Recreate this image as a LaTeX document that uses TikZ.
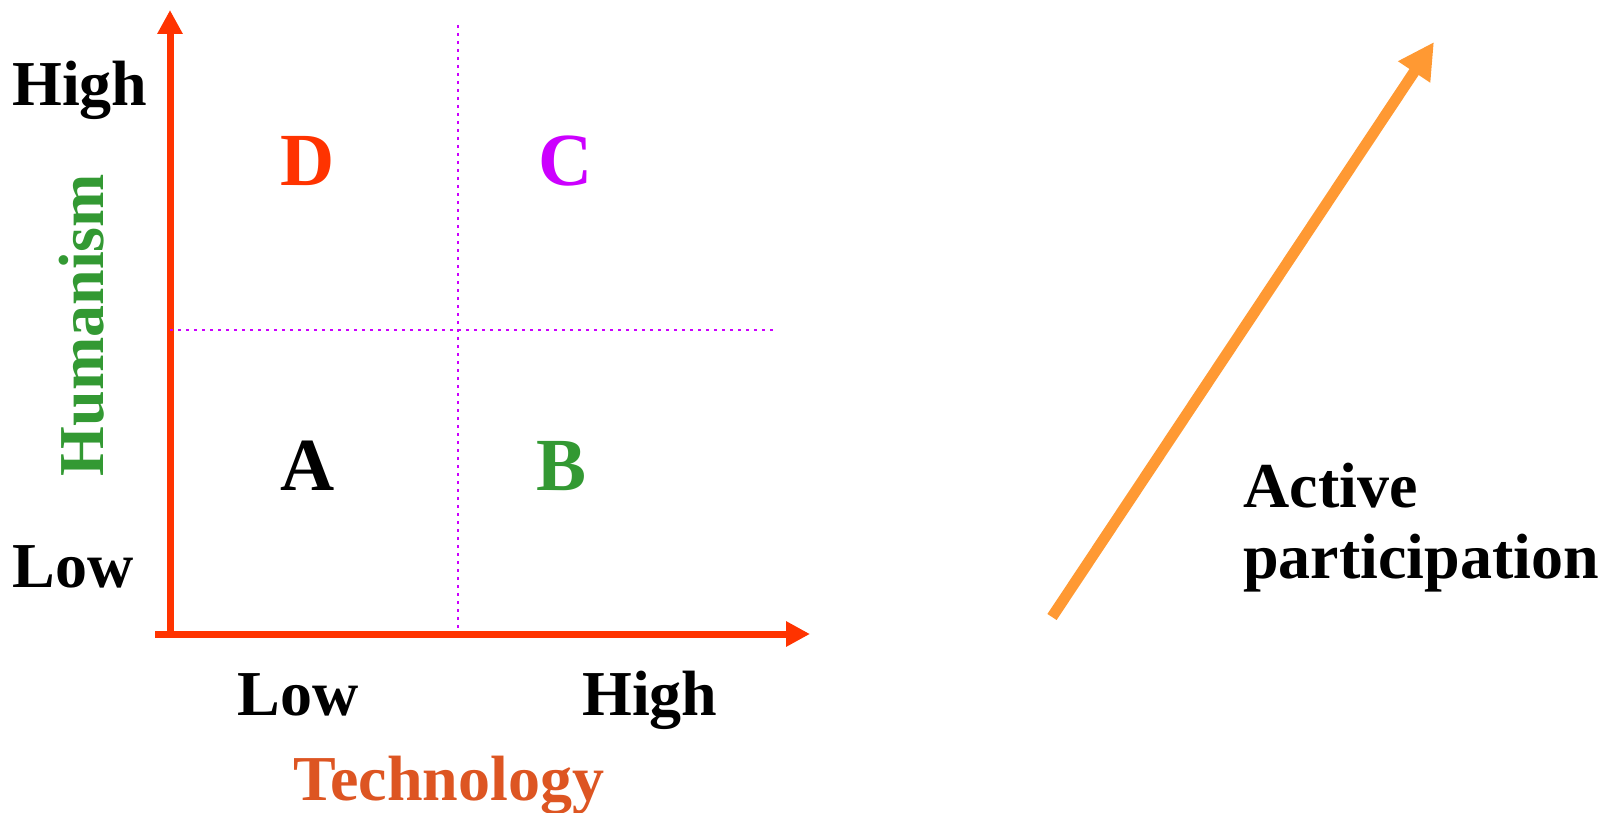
\documentclass[tikz,border=0pt]{standalone}
\usepackage{fontspec}
\setmainfont{Liberation Serif}
\usetikzlibrary{arrows.meta}
\definecolor{axisred}{RGB}{255,51,0}
\definecolor{gridmag}{RGB}{204,0,255}
\definecolor{hgreen}{RGB}{51,153,51}
\definecolor{techorange}{RGB}{221,85,34}
\definecolor{partorange}{RGB}{255,153,51}
\tikzset{
    axis/.style={-{Triangle[length=12pt, width=12pt]}, line width=3.5pt, axisred},
    gridline/.style={gridmag, line width=1.4pt, dash pattern=on 1.4pt off 2.6pt},
    lvl/.style={font=\fontsize{32}{36}\selectfont\bfseries, inner sep=0pt, anchor=base west},
    quad/.style={font=\fontsize{37.5}{40}\selectfont\bfseries, inner sep=0pt, anchor=base},
}

\begin{document}
\begin{tikzpicture}[x=0.5pt, y=-0.5pt]
\useasboundingbox (0,0) rectangle (1601,813);

% Axes
\coordinate (origin) at (170,634);
\coordinate (xstart) at (155,634);
\coordinate (xend) at (810,634);
\coordinate (ytop) at (170,10);
\draw[axis] (origin) -- (ytop);
\draw[axis] (xstart) -- (xend);

% Quadrant dividers
\coordinate (vtop) at (458,25);
\coordinate (vbot) at (458,628);
\coordinate (hleft) at (170,330);
\coordinate (hright) at (774,330);
\draw[gridline] (vtop) -- (vbot);
\draw[gridline] (hleft) -- (hright);

% Level labels
\node[lvl] (yhigh) at (12,105) {High};
\node[lvl] (ylow) at (12,587) {Low};
\node[lvl] (xlow) at (237,715) {Low};
\node[lvl] (xhigh) at (582,715) {High};
\node[lvl, techorange] (tech) at (293,800) {Technology};
\node[lvl, hgreen, rotate=90, anchor=base] (human) at (103,325) {Humanism};

% Quadrants
\node[quad, axisred] (qd) at (308,185) {D};
\node[quad, gridmag] (qc) at (566,185) {C};
\node[quad] (qa) at (308,490) {A};
\node[quad, hgreen] (qb) at (562,490) {B};

% Active participation (base = last line)
\coordinate (pstart) at (1052,617);
\coordinate (pend) at (1434,42);
\draw[-{Triangle[length=18pt, width=18pt]}, line width=5.5pt, partorange] (pstart) -- (pend);
\node[lvl, font=\fontsize{32}{35.5}\selectfont\bfseries, align=left] (part) at (1243,578) {Active\\participation};

\end{tikzpicture}
\end{document}
